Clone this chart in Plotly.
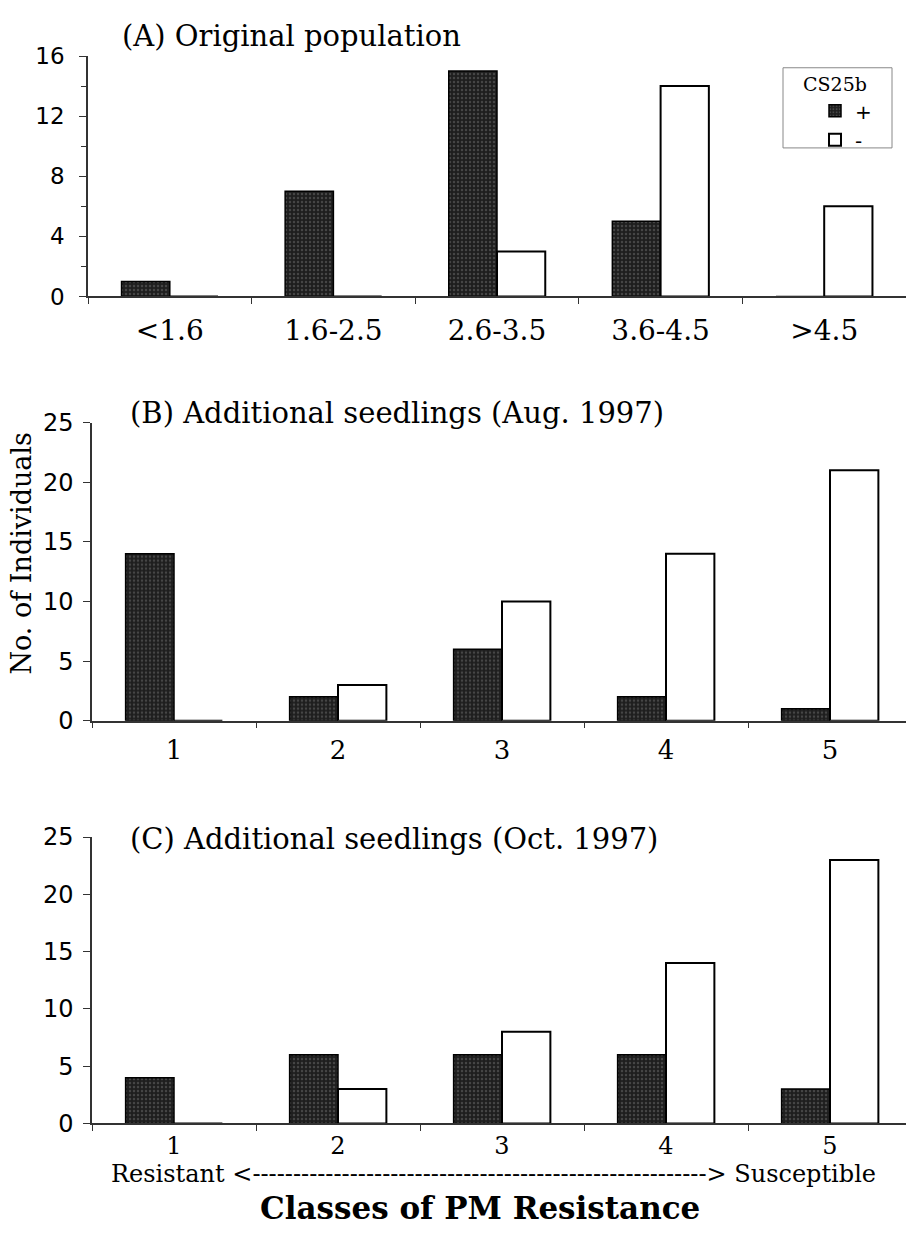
import plotly.graph_objects as go

W, H = 906, 1244

# ---- data ----
cats_a = ["<1.6", "1.6-2.5", "2.6-3.5", "3.6-4.5", ">4.5"]
cats_bc = ["1", "2", "3", "4", "5"]
a_plus = [1, 7, 15, 5, 0]
a_minus = [0, 0, 3, 14, 6]
b_plus = [14, 2, 6, 2, 1]
b_minus = [0, 3, 10, 14, 21]
c_plus = [4, 6, 6, 6, 3]
c_minus = [0, 3, 8, 14, 23]
series_names = ["+", "-"]

def px(x):
    return x / W

def py(y):
    return 1 - y / H

SERIF = "DejaVu Serif"
SANS = "DejaVu Sans"
AX = "#333333"

dark = dict(color="#1e1e1e", line=dict(color="#000000", width=1.5),
            pattern=dict(shape=".", fgcolor="#6e6e6e", bgcolor="#1e1e1e", size=4, solidity=0.3))
light = dict(color="#ffffff", line=dict(color="#000000", width=2))

fig = go.Figure()
panels = [
    (cats_a, a_plus, a_minus, "x", "y", True),
    (cats_bc, b_plus, b_minus, "x2", "y2", False),
    (cats_bc, c_plus, c_minus, "x3", "y3", False),
]
for cats, plus, minus, xa, ya, show in panels:
    fig.add_trace(go.Bar(x=cats, y=plus, name=series_names[0], marker=dark,
                         xaxis=xa, yaxis=ya, showlegend=show, legendgroup="p"))
    fig.add_trace(go.Bar(x=cats, y=minus, name=series_names[1], marker=light,
                         xaxis=xa, yaxis=ya, showlegend=show, legendgroup="m"))

xcommon = dict(type="category", showline=True, linecolor=AX, linewidth=1.5,
               ticks="outside", tickson="boundaries", ticklen=6, tickcolor=AX, tickwidth=1,
               showgrid=False, zeroline=False,
               tickfont=dict(family=SERIF, size=26, color="#000"))
ycommon = dict(showline=True, linecolor=AX, linewidth=1.5, ticks="outside", ticklen=7,
               tickcolor=AX, tickwidth=1, showgrid=False, zeroline=False,
               tickfont=dict(family=SANS, size=23, color="#000"))

fig.update_layout(
    width=W, height=H,
    margin=dict(l=0, r=0, t=0, b=0),
    paper_bgcolor="white", plot_bgcolor="white",
    barmode="group", bargap=0.41, bargroupgap=0,
    xaxis=dict(xcommon, domain=[px(88), 1], range=[-0.5, 4.5], anchor="y", ticklabelstandoff=8,
               tickfont=dict(family=SERIF, size=28, color="#000")),
    xaxis2=dict(xcommon, domain=[px(92), 1], range=[-0.5, -0.5 + 814 / 164], anchor="y2",
                ticklabelstandoff=5),
    xaxis3=dict(xcommon, domain=[px(92), 1], range=[-0.5, -0.5 + 814 / 164], anchor="y3",
                ticklabelstandoff=0, tickfont=dict(family=SERIF, size=24, color="#000")),
    yaxis=dict(ycommon, domain=[py(289), py(43)], range=[0, 16], dtick=4, anchor="x",
               minor=dict(dtick=2, ticks="outside", ticklen=5, tickcolor=AX), ticklabelstandoff=10),
    yaxis2=dict(ycommon, domain=[py(723), py(418)], range=[0, 25], dtick=5, anchor="x2",
                ticklabelstandoff=5, tickfont=dict(family=SANS, size=24, color="#000")),
    yaxis3=dict(ycommon, domain=[py(1135), py(842)], range=[0, 25], dtick=5, anchor="x3",
                ticklabelstandoff=5, tickfont=dict(family=SANS, size=24, color="#000")),
    legend=dict(x=px(815), y=py(79), xanchor="left", yanchor="top",
                bgcolor="rgba(0,0,0,0)", borderwidth=0,
                font=dict(family=SANS, size=20, color="#000"),
                tracegroupgap=0),
    shapes=[dict(type="rect", xref="paper", yref="paper", x0=px(783), x1=px(892),
                 y0=py(137), y1=py(55), line=dict(color="#888888", width=1))],
)

ann = [
    dict(text="CS25b", x=px(835), y=py(72), xanchor="center", yanchor="middle",
         font=dict(family=SERIF, size=19)),
    dict(text="(A) Original population", x=px(120), y=py(22), xanchor="left", yanchor="middle",
         font=dict(family=SERIF, size=29)),
    dict(text="(B) Additional seedlings (Aug. 1997)", x=px(128), y=py(408), xanchor="left",
         yanchor="middle", font=dict(family=SERIF, size=29)),
    dict(text="(C) Additional seedlings (Oct. 1997)", x=px(128), y=py(844), xanchor="left",
         yanchor="middle", font=dict(family=SERIF, size=29)),
    dict(text="No. of Individuals", x=px(22), y=py(552), textangle=-90, xanchor="center",
         yanchor="middle", font=dict(family=SERIF, size=27)),
    dict(text="Resistant <" + "-" * 56 + "> Susceptible", x=px(493), y=py(1187),
         xanchor="center", yanchor="middle", font=dict(family=SERIF, size=24)),
    dict(text="<b>Classes of PM Resistance</b>", x=px(480), y=py(1222), xanchor="center",
         yanchor="middle", font=dict(family=SERIF, size=31)),
]
for a in ann:
    a.update(xref="paper", yref="paper", showarrow=False)
    a["font"]["color"] = "#000"
fig.update_layout(annotations=ann)

fig.write_html("out.html", post_script="document.body.style.margin='0';",
               config={"displayModeBar": False})
